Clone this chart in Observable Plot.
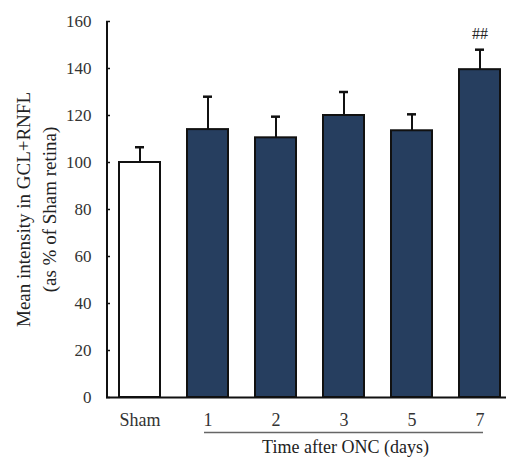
<!DOCTYPE html>
<html>
<head>
<meta charset="utf-8">
<script src="https://cdn.jsdelivr.net/npm/d3@7"></script>
<script src="https://cdn.jsdelivr.net/npm/@observablehq/plot@0.6"></script>
<style>
  html, body { margin: 0; padding: 0; background: #fff; }
</style>
</head>
<body>
<div id="chart"></div>
<script>
const categories = ["Sham", "1", "2", "3", "5", "7"];
const means = [100, 114, 110.5, 120, 113.5, 139.5];
const sems = [6.5, 14, 9, 10, 7, 8.5];
const marks = ["", "", "", "", "", "##"];
const yTicks = [0, 20, 40, 60, 80, 100, 120, 140, 160];
const yTitle = "Mean intensity in GCL+RNFL\n(as % of Sham retina)";
const xTitle = "Time after ONC (days)";

const data = categories.map((c, i) => ({cat: c, mean: means[i], top: means[i] + sems[i], sig: marks[i]}));

const chart = Plot.plot({
  width: 506,
  height: 457,
  marginLeft: 106,
  marginRight: 0,
  marginTop: 21,
  marginBottom: 60,
  style: {fontFamily: "'Liberation Serif', 'DejaVu Serif', serif", fontSize: "17px", color: "#111", background: "#fff"},
  x: {domain: categories, paddingInner: 0.4, paddingOuter: 0.137, align: 0.7, label: null},
  y: {domain: [0, 160], label: null},
  color: {domain: ["sham", "onc"], range: ["#ffffff", "#263e5f"]},
  marks: [
    Plot.ruleX(data, {x: "cat", y1: "mean", y2: "top", stroke: "#111", strokeWidth: 2}),
    Plot.tickY(data, {x: "cat", y: "top", stroke: "#111", strokeWidth: 2.5, insetLeft: 16, insetRight: 16}),
    Plot.barY(data, {x: "cat", y: "mean", fill: d => d.cat === "Sham" ? "sham" : "onc", stroke: "#111", strokeWidth: 2}),
    Plot.text(data, {x: "cat", y: "top", text: "sig", dy: -16, fontSize: 16, fill: "#222"}),
    Plot.frame({fill: "#111", stroke: "#111", strokeWidth: 1, insetRight: 399}),
    Plot.tickY(yTicks, {y: d => d, stroke: "#111", strokeWidth: 1.5, insetRight: 396}),
    Plot.axisY({ticks: yTicks, tickSize: 0, tickPadding: 15, fill: "#333", fontSize: 17, label: null}),
    Plot.axisX({tickSize: 0, tickPadding: 16, fill: "#333", fontSize: 18, label: null}),
    Plot.ruleY([0], {stroke: "#111", strokeWidth: 2}),
    Plot.ruleY([0], {dy: 35, insetLeft: 98, insetRight: 23, stroke: "#666", strokeWidth: 1.3}),
    Plot.text([xTitle], {frameAnchor: "bottom", dx: 39, dy: 43, lineAnchor: "top", fontSize: 18, fill: "#222"}),
    Plot.text([yTitle], {frameAnchor: "left", textAnchor: "middle", dx: -72, rotate: -90, fontSize: 19, lineHeight: 1.35, fill: "#222"})
  ]
});
document.getElementById("chart").appendChild(chart);
</script>
</body>
</html>
